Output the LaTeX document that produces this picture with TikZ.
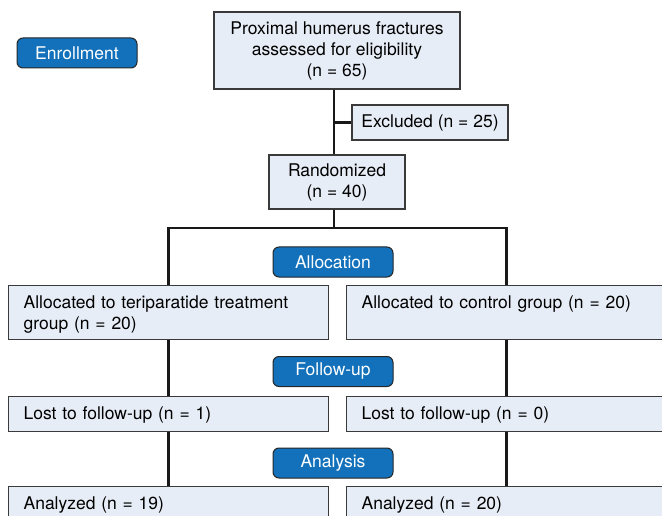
\documentclass[tikz,border=0pt]{standalone}
\usepackage{fontspec}
\setmainfont{TeX Gyre Heros}
\definecolor{boxfill}{HTML}{E7EDF6}
\definecolor{boxline}{HTML}{3A3A3A}
\definecolor{stagefill}{HTML}{1271BA}
\begin{document}
\begin{tikzpicture}[x=1pt, y=-1pt]
        \tikzset{Box/.style={shape=rectangle, draw=boxline, fill=boxfill, line width=1.2pt, inner sep=0pt, align=center, font=\fontsize{17.5}{21}\selectfont}}
        \tikzset{Group/.style={Box, anchor=north west, align=left, text width=290pt, inner xsep=15pt, text height=23pt}}
        \tikzset{Stage/.style={shape=rectangle, rounded corners=6pt, draw=black!85, fill=stagefill, line width=1pt, text=white, minimum width=120pt, minimum height=30pt, font=\fontsize{17.5}{21}\selectfont}}
        \tikzset{Link/.style={line width=2.6pt, black!90}}

        \clip (0,0) rectangle (662,516);

        % nodes
        \node[Stage] (enroll) at (77, 53) {Enrollment};
        \node[Box, minimum width=246pt, minimum height=77pt] (screen) at (337, 50.5) {Proximal humerus fractures\\assessed for eligibility\\(n = 65)};
        \node[Box, minimum width=156pt, minimum height=35pt] (excl) at (430, 122.5) {Excluded (n = 25)};
        \node[Box, minimum width=136pt, minimum height=54pt] (rand) at (337, 182) {Randomized\\(n = 40)};

        \node[Stage] (alloc) at (333, 262) {Allocation};
        \node[Group, text depth=31pt] (allocL) at (8, 285) {Allocated to teriparatide treatment group (n = 20)};
        \node[Group, text depth=31pt] (allocR) at (346, 285) {Allocated to control group (n = 20)};

        \node[Stage] (follow) at (333, 371.5) {Follow-up};
        \node[Group, text depth=12pt] (lostL) at (8, 396) {Lost to follow-up (n = 1)};
        \node[Group, text depth=12pt] (lostR) at (346, 396) {Lost to follow-up (n = 0)};

        \node[Stage] (analysis) at (333, 463) {Analysis};
        \node[Group, text depth=31pt] (anaL) at (8, 486) {Analyzed (n = 19)};
        \node[Group, text depth=31pt] (anaR) at (346, 486) {Analyzed (n = 20)};

        \coordinate (trunk) at (334, 0);
        \coordinate (split) at (334, 228);

        % lines
        \draw[Link] (screen.south -| trunk) -- (rand.north -| trunk);
        \draw[Link] (excl.west -| trunk) -- (excl.west);
        \draw[Link] (rand.south -| trunk) -- (split);
        \draw[Link] (allocL.north) |- (split) -| (allocR.north);
        \draw[Link] (allocL) -- (lostL);
        \draw[Link] (allocR) -- (lostR);
        \draw[Link] (lostL) -- (anaL);
        \draw[Link] (lostR) -- (anaR);
    \end{tikzpicture}
\end{document}
